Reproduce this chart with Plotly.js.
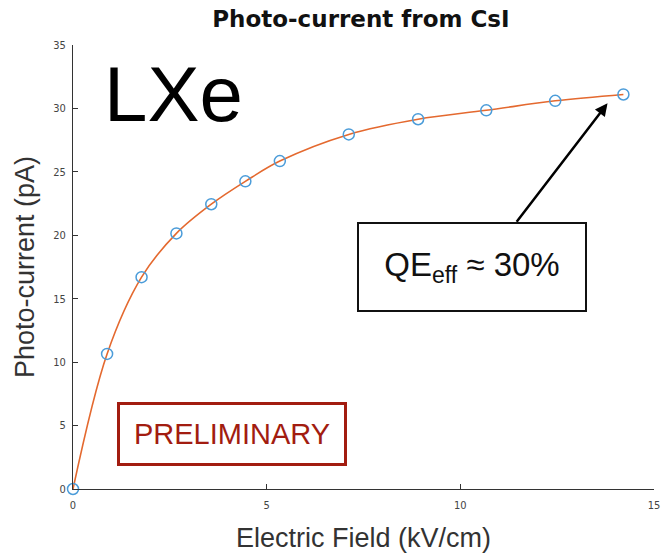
<!DOCTYPE html>
<html>
<head>
<meta charset="utf-8">
<script src="https://cdn.plot.ly/plotly-3.0.1.min.js"></script>
<style>html,body{margin:0;padding:0;background:#fff;}#chart{width:661px;height:558px;}</style>
</head>
<body>
<div id="chart"></div>
<script>
// Data
const fieldKVcm = [0, 0.88, 1.77, 2.67, 3.57, 4.45, 5.34, 7.12, 8.91, 10.67, 12.45, 14.21];
const photoCurrentPA = [0, 10.65, 16.7, 20.15, 22.45, 24.25, 25.85, 27.95, 29.15, 29.85, 30.6, 31.1];
const xTicks = [0, 5, 10, 15];
const yTicks = [0, 5, 10, 15, 20, 25, 30, 35];

const fit = {
  x: fieldKVcm, y: photoCurrentPA, type: 'scatter', mode: 'lines',
  line: {color: '#e4692f', width: 1.6, shape: 'spline', smoothing: 1.0},
  hoverinfo: 'skip', cliponaxis: false
};
const meas = {
  x: fieldKVcm, y: photoCurrentPA, type: 'scatter', mode: 'markers',
  marker: {symbol: 'circle-open', size: 11, color: '#4b9cd9', line: {width: 1.5, color: '#4b9cd9'}},
  cliponaxis: false
};

const layout = {
  width: 661, height: 558,
  margin: {l: 73, r: 7, t: 45, b: 69},
  paper_bgcolor: '#fff', plot_bgcolor: '#fff',
  showlegend: false,
  font: {family: 'Liberation Sans, Arial, sans-serif', color: '#333'},
  title: {text: '<b>Photo-current from CsI</b>', font: {size: 23, color: '#111', family: 'DejaVu Sans, Liberation Sans, sans-serif'}, x: 0.546, xanchor: 'center', y: 0.966, yanchor: 'middle'},
  xaxis: {
    range: [0, 15], tickvals: xTicks, ticktext: xTicks.map(String),
    showgrid: false, zeroline: false, showline: true, linecolor: '#333', linewidth: 1,
    ticks: 'inside', ticklen: 5, tickcolor: '#333',
    tickfont: {size: 11, color: '#444', family: 'DejaVu Sans Condensed, Liberation Sans, sans-serif'},
    ticklabelstandoff: 6,
    title: {text: 'Electric Field (kV/cm)', font: {size: 27, color: '#333'}, standoff: 16}
  },
  yaxis: {
    range: [0, 35], tickvals: yTicks, ticktext: yTicks.map(String),
    showgrid: false, zeroline: false, showline: true, linecolor: '#333', linewidth: 1,
    ticks: 'inside', ticklen: 5, tickcolor: '#333',
    tickfont: {size: 11, color: '#444', family: 'DejaVu Sans Condensed, Liberation Sans, sans-serif'},
    ticklabelstandoff: 4,
    title: {text: 'Photo-current (pA)', font: {size: 27, color: '#333'}, standoff: 10}
  },
  annotations: [
    {xref: 'paper', yref: 'paper', x: 0.05, y: 0.89, xanchor: 'left', yanchor: 'middle',
     text: 'LXe', showarrow: false, font: {size: 78, color: '#000', family: 'Liberation Sans, Arial, sans-serif'}},
    {x: 13.8, y: 30.4, xref: 'x', yref: 'y', text: '', showarrow: true,
     ax: -92, ay: 120, arrowhead: 2, arrowsize: 1, arrowwidth: 2.5, arrowcolor: '#000'},
    {xref: 'paper', yref: 'paper', x: 0.687, y: 0.5, xanchor: 'center', yanchor: 'middle',
     text: 'QE<sub>eff</sub> ≈ 30%', showarrow: false,
     font: {size: 33, color: '#111', family: 'Liberation Sans, Arial, sans-serif'},
     bgcolor: '#fff', bordercolor: '#111', borderwidth: 2, width: 224, height: 84, borderpad: 1},
    {xref: 'paper', yref: 'paper', x: 0.274, y: 0.124, xanchor: 'center', yanchor: 'middle',
     text: 'PRELIMINARY', showarrow: false,
     font: {size: 29, color: '#a21c10', family: 'Liberation Sans, Arial, sans-serif'},
     bgcolor: '#fff', bordercolor: '#a21c10', borderwidth: 3, width: 222, height: 56, borderpad: 1}
  ]
};

Plotly.newPlot('chart', [fit, meas], layout, {displayModeBar: false, staticPlot: true});
</script>
</body>
</html>
